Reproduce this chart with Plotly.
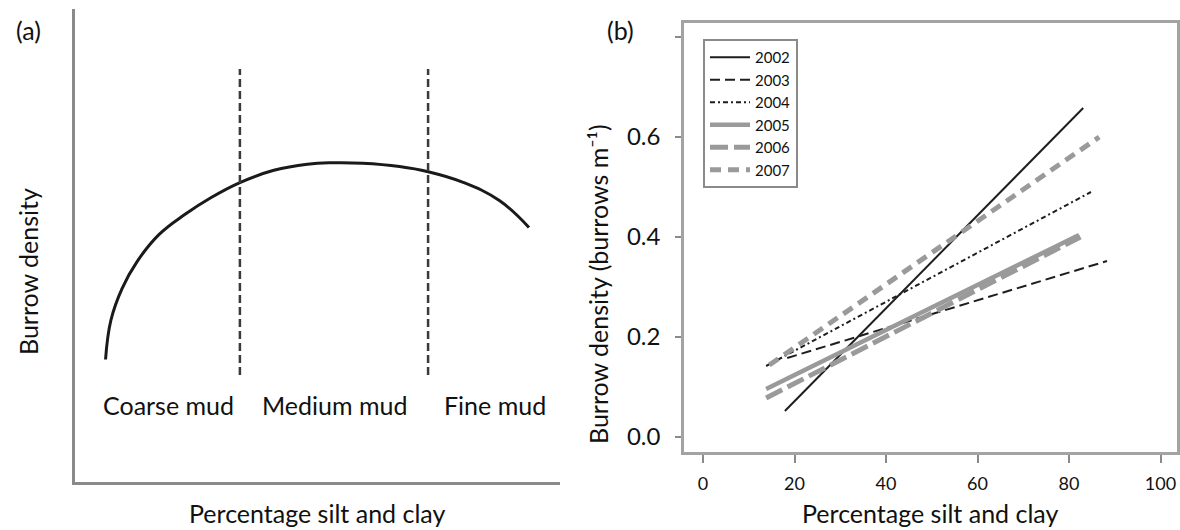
import plotly.graph_objects as go

W, H = 1180, 530
FONT = "Lato"


def fx(p):
    """Horizontal pixel -> paper fraction."""
    return p / W


def fy(p):
    """Vertical pixel (from top) -> paper fraction."""
    return 1 - p / H


# ---------------- Panel (a): conceptual relationship ----------------
concept_x = [6.3, 7.4, 9.7, 12.8, 17.3, 22.7, 28.0, 34.0, 41.0, 47.9,
             53.2, 59.3, 66.9, 72.8, 79.9, 87.5, 93.6]
concept_y = [25.9, 34.2, 40.9, 46.6, 52.3, 56.6, 60.1, 63.3, 65.9, 67.2,
             67.5, 67.4, 66.7, 65.6, 63.4, 59.5, 53.8]
class_bounds = [34.0, 72.8]
bound_y = [22.6, 87.3]
class_names = ["Coarse mud", "Medium mud", "Fine mud"]
class_label_x = [19.2, 53.6, 86.6]
class_label_y = 16.3

# ---------------- Panel (b): yearly regression lines ----------------
years = ["2002", "2003", "2004", "2005", "2006", "2007"]
x_start = [17.9, 18.4, 13.8, 13.8, 13.8, 14.5]
x_end = [83.1, 88.3, 84.8, 82.2, 82.5, 86.6]
y_start = [0.052, 0.158, 0.142, 0.096, 0.078, 0.144]
y_end = [0.658, 0.352, 0.490, 0.404, 0.400, 0.600]

x_ticks = [0, 20, 40, 60, 80, 100]
y_ticks = [0.0, 0.2, 0.4, 0.6]
y_tick_text = ["0.0", "0.2", "0.4", "0.6"]
y_extra_tick = [0.8]

line_colors = ["#1e1e1e", "#1e1e1e", "#1e1e1e", "#9a9a9a", "#9a9a9a", "#9a9a9a"]
line_widths = [2, 2, 2, 4.5, 5, 5]
line_dashes = ["solid", "10px,5px", "5px,3px,2px,3px", "solid", "18px,6px", "11px,7px"]

fig = go.Figure()

# conceptual curve
fig.add_trace(go.Scatter(
    x=concept_x, y=concept_y, mode="lines", xaxis="x", yaxis="y",
    line=dict(color="#1a1a1a", width=3, shape="spline", smoothing=1.2),
    showlegend=False, hoverinfo="skip"))

# class boundaries
for b in class_bounds:
    fig.add_trace(go.Scatter(
        x=[b, b], y=bound_y, mode="lines", xaxis="x", yaxis="y",
        line=dict(color="#3a3a3a", width=2.5, dash="8px,4px"),
        showlegend=False, hoverinfo="skip"))

# regression lines by year
for i, yr in enumerate(years):
    fig.add_trace(go.Scatter(
        x=[x_start[i], x_end[i]], y=[y_start[i], y_end[i]], mode="lines",
        xaxis="x2", yaxis="y2", name=yr,
        line=dict(color=line_colors[i], width=line_widths[i], dash=line_dashes[i])))

TXT = dict(family=FONT, size=25, color="#111111")

annotations = []
for name, lx in zip(class_names, class_label_x):
    annotations.append(dict(
        x=lx, y=class_label_y, xref="x", yref="y", text=name, showarrow=False,
        xanchor="center", yanchor="middle", font=TXT))

text_items = [
    ("(a)", 28, 30, 0, "middle"),
    ("(b)", 620, 30, 0, "middle"),
    ("Burrow density", 28, 272, -90, "middle"),
    ("Percentage silt and clay", 317, 530, 0, "bottom"),
    ("Percentage silt and clay", 930, 530, 0, "bottom"),
    ("Burrow density (burrows m\u207b\u00b9)", 598, 284, -90, "middle"),
]
for txt, px, py, ang, ya in text_items:
    annotations.append(dict(
        x=fx(px), y=fy(py), xref="paper", yref="paper", text=txt,
        showarrow=False, xanchor="center", yanchor=ya, textangle=ang,
        font=TXT))

fig.update_layout(
    width=W, height=H,
    margin=dict(l=0, r=0, t=0, b=0),
    paper_bgcolor="white", plot_bgcolor="white",
    font=dict(family=FONT, color="#111111"),
    xaxis=dict(domain=[fx(75), fx(560)], range=[0, 100], showgrid=False,
               zeroline=False, showticklabels=False, ticks="",
               showline=True, linecolor="#8a8a8a", linewidth=2.5),
    yaxis=dict(domain=[fy(482), fy(9)], range=[0, 100], showgrid=False,
               zeroline=False, showticklabels=False, ticks="",
               showline=True, linecolor="#8a8a8a", linewidth=2.5),
    xaxis2=dict(domain=[fx(684), fx(1177)], range=[-4.15, 103.6],
                anchor="y2", showgrid=False, zeroline=False,
                tickvals=x_ticks, ticks="outside", ticklen=8, tickwidth=2,
                tickcolor="#8a8a8a", tickfont=dict(family=FONT, size=18),
                ticklabelstandoff=6,
                showline=True, mirror=True, linecolor="#a3a3a3", linewidth=2.5),
    yaxis2=dict(domain=[fy(452), fy(23)], range=[-0.03, 0.828],
                anchor="x2", showgrid=False, zeroline=False,
                tickvals=y_ticks, ticktext=y_tick_text, ticks="outside",
                ticklen=6, tickwidth=2, tickcolor="#8a8a8a",
                tickfont=dict(family=FONT, size=24), ticklabelstandoff=10,
                minor=dict(tickvals=y_extra_tick, ticks="outside", ticklen=6,
                           tickwidth=2, tickcolor="#8a8a8a", showgrid=False),
                showline=True, mirror=True, linecolor="#a3a3a3", linewidth=2.5),
    legend=dict(x=fx(703), y=fy(39), xanchor="left", yanchor="top",
                bgcolor="white", bordercolor="#8a8a8a", borderwidth=2,
                font=dict(family=FONT, size=15, color="#111111"),
                itemwidth=40, tracegroupgap=0),
    annotations=annotations,
)

fig.write_html("out.html")
